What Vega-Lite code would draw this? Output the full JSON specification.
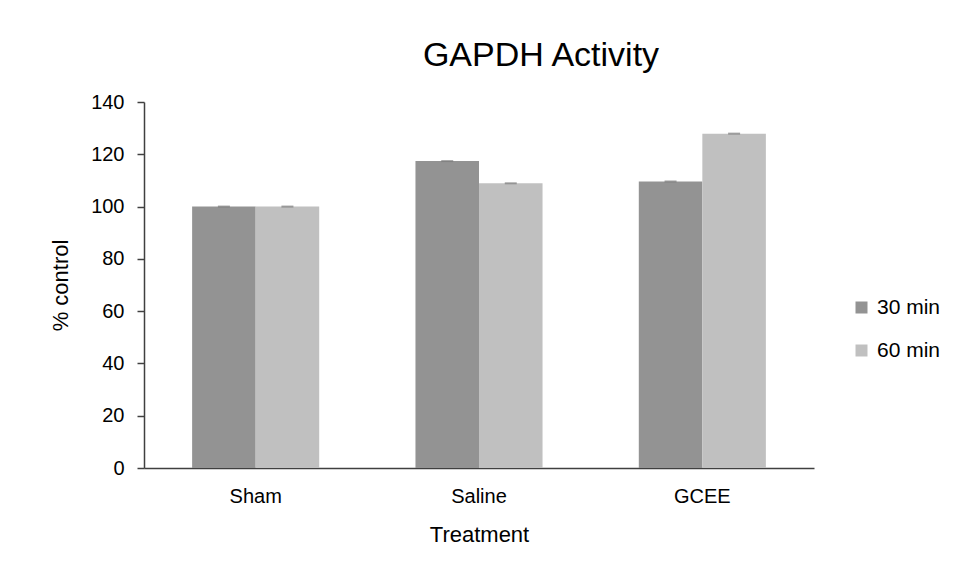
{
  "$schema": "https://vega.github.io/schema/vega-lite/v6.json",
  "width": 670,
  "height": 366,
  "autosize": {"type": "none"},
  "padding": {"left": 144, "top": 102, "right": 146, "bottom": 109},
  "background": "white",
  "config": {
    "view": {"stroke": null},
    "font": "Liberation Sans"
  },
  "title": {
    "text": "GAPDH Activity",
    "font": "Liberation Sans",
    "fontSize": 34,
    "fontWeight": "normal",
    "color": "#000000",
    "anchor": "middle",
    "frame": "group",
    "dx": 62,
    "dy": 43,
    "baseline": "alphabetic",
    "offset": 35
  },
  "data": {
    "values": [
      {"Treatment": "Sham", "Time": "30 min", "value": 100},
      {"Treatment": "Sham", "Time": "60 min", "value": 100},
      {"Treatment": "Saline", "Time": "30 min", "value": 117.4},
      {"Treatment": "Saline", "Time": "60 min", "value": 108.9},
      {"Treatment": "GCEE", "Time": "30 min", "value": 109.6},
      {"Treatment": "GCEE", "Time": "60 min", "value": 127.9}
    ]
  },
  "encoding": {
    "x": {
      "field": "Treatment",
      "type": "nominal",
      "sort": ["Sham", "Saline", "GCEE"],
      "scale": {"paddingInner": 0.431, "paddingOuter": 0.2155},
      "axis": {
        "title": "Treatment",
        "labelAngle": 0,
        "ticks": false,
        "domainColor": "#404040",
        "domainWidth": 1.5,
        "labelFontSize": 20,
        "labelPadding": 18,
        "labelColor": "#000000",
        "titleFontSize": 22,
        "titleFontWeight": "normal",
        "titleColor": "#000000",
        "titlePadding": 18
      }
    },
    "xOffset": {
      "field": "Time",
      "type": "nominal",
      "scale": {"paddingInner": 0, "paddingOuter": 0}
    },
    "y": {
      "field": "value",
      "type": "quantitative",
      "scale": {"domain": [0, 140], "nice": false},
      "axis": {
        "title": "% control",
        "values": [0, 20, 40, 60, 80, 100, 120, 140],
        "grid": false,
        "domainColor": "#404040",
        "domainWidth": 1.5,
        "tickColor": "#404040",
        "tickWidth": 1.5,
        "tickSize": 7,
        "labelFontSize": 20,
        "labelPadding": 13,
        "labelColor": "#000000",
        "titleFontSize": 22,
        "titleFontWeight": "normal",
        "titleColor": "#000000",
        "titlePadding": 18
      }
    }
  },
  "layer": [
    {
      "mark": {"type": "bar"},
      "encoding": {
        "color": {
          "field": "Time",
          "type": "nominal",
          "scale": {"domain": ["30 min", "60 min"], "range": ["#939393", "#c0c0c0"]},
          "legend": {
            "title": null,
            "orient": "none",
            "legendX": 707,
            "legendY": 195,
            "symbolType": "square",
            "symbolSize": 144,
            "symbolStrokeWidth": 0,
            "labelFontSize": 21,
            "labelColor": "#000000",
            "labelOffset": 5,
            "rowPadding": 21,
            "padding": 0
          }
        }
      }
    },
    {
      "mark": {"type": "tick", "color": "#7a7a7a", "thickness": 2, "size": 12}
    }
  ]
}
